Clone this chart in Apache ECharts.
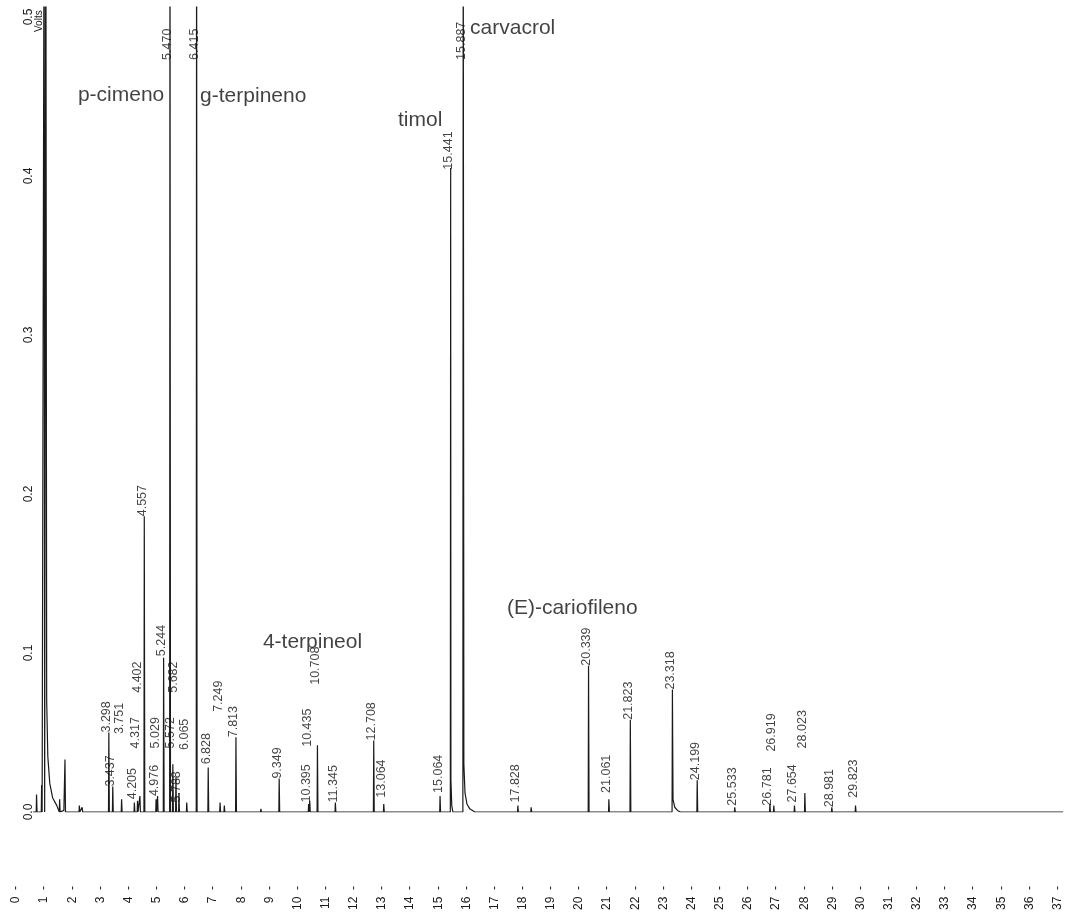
<!DOCTYPE html>
<html>
<head>
<meta charset="utf-8">
<script src="https://cdn.jsdelivr.net/npm/echarts@6/dist/echarts.min.js"></script>
<style>
  html, body { margin: 0; padding: 0; background: #ffffff; }
  #chart { width: 1066px; height: 922px; }
</style>
</head>
<body>
<div id="chart"></div>
<script>
// ---- data ----
// retention times (min) of the peaks drawn as spikes
const peakTimes = [0.73, 0.91, 1.00, 1.06, 1.55, 1.74, 2.25, 2.35,
  3.298, 3.437, 3.751, 4.205, 4.317, 4.402, 4.557, 4.976, 5.029, 5.244,
  5.470, 5.572, 5.682, 5.788, 6.065, 6.415, 6.828, 7.249, 7.40, 7.813,
  8.70, 9.349, 10.395, 10.435, 10.708, 11.345, 12.708, 13.064, 15.064,
  15.441, 15.887, 17.828, 18.30, 20.339, 21.061, 21.823, 23.318, 24.199,
  25.533, 26.781, 26.919, 27.654, 28.023, 28.981, 29.823];
// peak heights (Volts); off-scale peaks exceed the 0.5 V top of the plot
const peakHeights = [0.011, 0.017, 0.60, 0.60, 0.008, 0.033, 0.004, 0.003,
  0.050, 0.016, 0.008, 0.006, 0.007, 0.010, 0.186, 0.008, 0.010, 0.097,
  0.60, 0.030, 0.022, 0.012, 0.006, 0.60, 0.028, 0.006, 0.004, 0.047,
  0.002, 0.021, 0.005, 0.007, 0.042, 0.006, 0.045, 0.005, 0.010,
  0.405, 0.60, 0.004, 0.003, 0.092, 0.008, 0.058, 0.077, 0.020,
  0.003, 0.005, 0.004, 0.004, 0.012, 0.003, 0.004];
// tailing after the solvent front and the big peaks [time, Volts]
const tailPoints = [[1.09, 0.07], [1.13, 0.035], [1.20, 0.018], [1.30, 0.009],
  [1.45, 0.004], [1.70, 0.001], [15.45, 0.02], [15.48, 0.004], [15.52, 0.0],
  [15.91, 0.03], [15.95, 0.012], [16.02, 0.005], [16.12, 0.002], [16.30, 0.0],
  [23.34, 0.008], [23.40, 0.003], [23.50, 0.001], [23.60, 0.0]];
// start / end of the recorded trace (min)
const traceStart = 0.6;
const traceEnd = 37.2;

// retention-time annotations: time, text, level (Volts) where the text starts
const rtTimes = [3.298, 3.437, 3.751, 4.205, 4.317, 4.402, 4.557, 4.976, 5.029,
  5.244, 5.470, 5.572, 5.682, 5.788, 6.065, 6.415, 6.828, 7.249, 7.813, 9.349,
  10.395, 10.435, 10.708, 11.345, 12.708, 13.064, 15.064, 15.441, 15.887,
  17.828, 20.339, 21.061, 21.823, 23.318, 24.199, 25.533, 26.781, 26.919,
  27.654, 28.023, 28.981, 29.823];
const rtTexts = ['3.298', '3.437', '3.751', '4.205', '4.317', '4.402', '4.557',
  '4.976', '5.029', '5.244', '5.470', '5.572', '5.682', '5.788', '6.065',
  '6.415', '6.828', '7.249', '7.813', '9.349', '10.395', '10.435', '10.708',
  '11.345', '12.708', '13.064', '15.064', '15.441', '15.887', '17.828',
  '20.339', '21.061', '21.823', '23.318', '24.199', '25.533', '26.781',
  '26.919', '27.654', '28.023', '28.981', '29.823'];
const rtLevels = [0.050, 0.016, 0.049, 0.008, 0.040, 0.075, 0.186, 0.010, 0.040,
  0.098, 0.473, 0.040, 0.075, 0.006, 0.039, 0.473, 0.030, 0.063, 0.047, 0.021,
  0.006, 0.041, 0.080, 0.006, 0.045, 0.009, 0.012, 0.404, 0.473,
  0.006, 0.092, 0.012, 0.058, 0.077, 0.020, 0.004, 0.004, 0.038,
  0.006, 0.040, 0.003, 0.009];

// compound names: text, time where the text begins, level of its middle (Volts)
const compoundNames = ['p-cimeno', 'g-terpineno', 'timol', 'carvacrol', '4-terpineol', '(E)-cariofileno'];
const compoundTimes = [2.20, 6.54, 13.57, 16.13, 8.77, 17.44];
const compoundLevels = [0.451, 0.450, 0.435, 0.493, 0.107, 0.128];

// axis ticks
const xTickStep = 1;
const yTickStep = 0.1;
const xMax = 37.3;
const yMax = 0.5063;

// ---- build the trace from the peak table ----
const pts = [];
pts.push({ v: [traceStart, 0], foot: false });
peakTimes.forEach((t, i) => {
  pts.push({ v: [t - 0.012, 0], foot: true });
  pts.push({ v: [t, peakHeights[i]], foot: false });
  pts.push({ v: [t + 0.018, 0], foot: true });
});
tailPoints.forEach(p => pts.push({ v: p, foot: false, tail: true }));
pts.push({ v: [traceEnd, 0], foot: false });
pts.sort((a, b) => a.v[0] - b.v[0]);
const trace = [];
for (let i = 0; i < pts.length; i++) {
  const p = pts[i];
  if (p.foot) {
    const nxt = pts[i + 1];
    if (nxt && nxt.tail && nxt.v[0] - p.v[0] < 0.06) continue;
  }
  trace.push(p.v);
}

const rtData = rtTimes.map((t, i) => [t, rtLevels[i]]);
const nameData = compoundTimes.map((t, i) => [t, compoundLevels[i]]);

const chart = echarts.init(document.getElementById('chart'), null, { renderer: 'canvas' });
const font = 'Liberation Sans, Arial, sans-serif';
chart.setOption({
  animation: false,
  backgroundColor: '#ffffff',
  textStyle: { fontFamily: font },
  grid: { left: 16, top: 7, width: 1050, height: 805, containLabel: false },
  xAxis: {
    type: 'value', min: 0, max: xMax, interval: xTickStep,
    axisLine: { show: false }, axisTick: { show: false }, splitLine: { show: false },
    axisLabel: {
      rotate: 90, margin: 74, fontSize: 12, color: '#1a1a1a', fontFamily: font,
      showMaxLabel: false,
      formatter: v => (Math.abs(v - Math.round(v)) < 1e-6 ? Math.round(v) + '  -' : '')
    }
  },
  yAxis: {
    type: 'value', min: 0, max: yMax, interval: yTickStep,
    axisLine: { show: false }, axisTick: { show: false }, splitLine: { show: false },
    axisLabel: {
      inside: true, rotate: 90, margin: 7, fontSize: 12, color: '#1a1a1a', fontFamily: font,
      showMaxLabel: false,
      formatter: v => {
        const k = v / yTickStep;
        return Math.abs(k - Math.round(k)) < 1e-6 ? v.toFixed(1) : '';
      }
    }
  },
  graphic: [{
    type: 'text', x: 39, y: 32, rotation: Math.PI / 2,
    style: { text: 'Volts', fill: '#1a1a1a', font: '10px ' + font, textAlign: 'left', textVerticalAlign: 'middle' }
  }],
  series: [
    {
      type: 'line', data: trace, symbol: 'none', clip: true,
      lineStyle: { color: '#1a1a1a', width: 1.2 },
      z: 2
    },
    {
      type: 'scatter', data: rtData, symbolSize: 0, silent: true,
      label: {
        show: true, position: 'inside', rotate: 90, align: 'left', verticalAlign: 'middle',
        offset: [0, -2],
        fontSize: 12.5, color: '#111', fontFamily: font,
        formatter: p => rtTexts[p.dataIndex]
      },
      z: 3
    },
    {
      type: 'scatter', data: nameData, symbolSize: 0, silent: true,
      label: {
        show: true, position: 'inside', align: 'left', verticalAlign: 'middle',
        fontSize: 21, color: '#111', fontFamily: font,
        formatter: p => compoundNames[p.dataIndex]
      },
      z: 3
    }
  ]
});
</script>
</body>
</html>
